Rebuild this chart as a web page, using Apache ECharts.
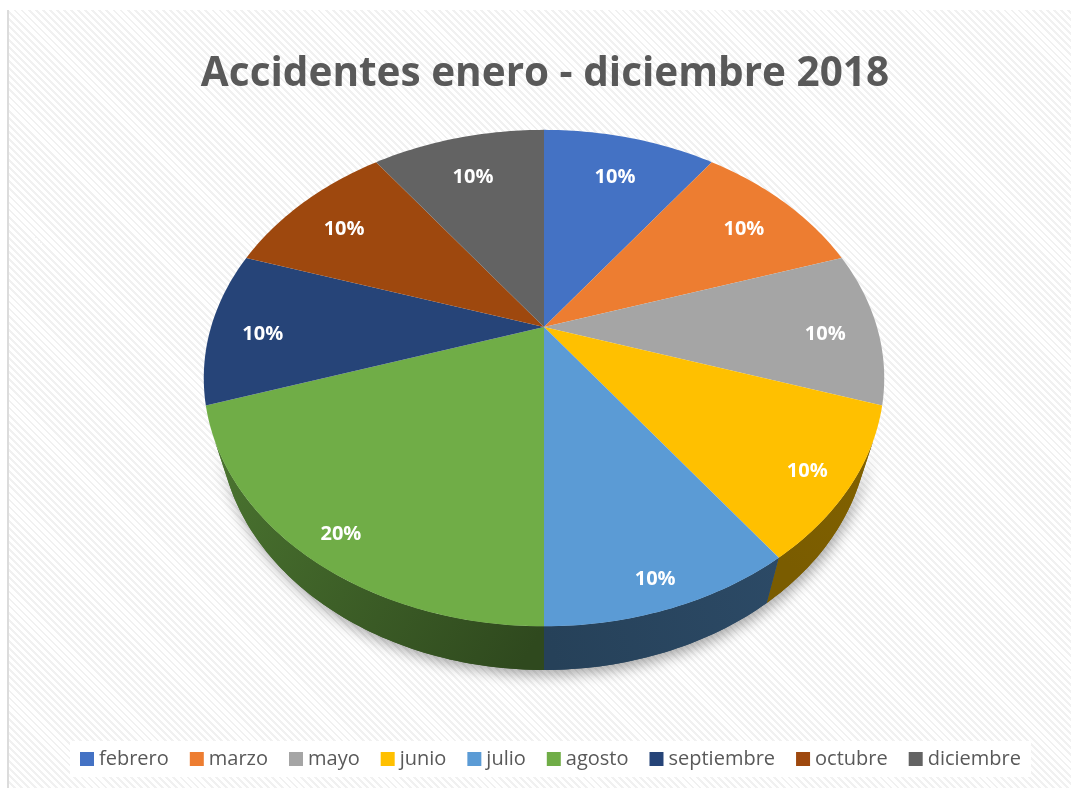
<!DOCTYPE html>
<html>
<head>
<meta charset="utf-8">
<script src="https://cdn.jsdelivr.net/npm/echarts@6/dist/echarts.min.js"></script>
<style>
  html, body { margin: 0; padding: 0; background: #fff; }
  #bg {
    position: absolute; left: 7px; top: 10px; width: 1062px; height: 778px;
    border-left: 2px solid #dcdcdc;
    background: repeating-linear-gradient(45deg, #ffffff 0px, #ffffff 3px, #f1f1f1 3px, #f1f1f1 5px);
  }
  #main { position: absolute; left: 0; top: 0; width: 1071px; height: 788px; }
</style>
</head>
<body>
<div id="bg"></div>
<div id="main"></div>
<script>
// datos
const months = ['febrero', 'marzo', 'mayo', 'junio', 'julio', 'agosto', 'septiembre', 'octubre', 'diciembre'];
const accidents = [1, 1, 1, 1, 1, 2, 1, 1, 1];
const palette = ['#4472C4', '#ED7D31', '#A5A5A5', '#FFC000', '#5B9BD5', '#70AD47', '#264478', '#9E480E', '#636363'];
const titleText = 'Accidentes enero - diciembre 2018';

// camara de la vista 3D (perspectiva)
const CX = 544, CY = 327, FOC = 1132, DIST = 3.40;
const SIN_T = 0.714, COS_T = 0.700, DEPTH = 0.215;

const total = accidents.reduce((a, b) => a + b, 0);

// angulo medido en sentido horario desde arriba (fondo)
const project = (phi, r, h) => {
  const u = r * Math.sin(phi);
  const v = r * Math.cos(phi);
  const z = DIST + COS_T * v + h * SIN_T;
  return [CX + FOC * u / z, CY - FOC * (SIN_T * v - h * COS_T) / z];
};

const shade = (hex, f) => {
  const n = parseInt(hex.slice(1), 16);
  const r = Math.round(((n >> 16) & 255) * f);
  const g = Math.round(((n >> 8) & 255) * f);
  const b = Math.round((n & 255) * f);
  return 'rgb(' + r + ',' + g + ',' + b + ')';
};

const sideFactor = (phi) => {
  const s = Math.sin(phi);
  return 0.42 + 0.1 * Math.max(0, s) + 0.28 * Math.max(0, -s);
};

// limite visible de la pared lateral
const wallLim = Math.acos(-1 / (DIST * COS_T));

const arcPoints = (a0, a1, r, h) => {
  const pts = [];
  const steps = Math.max(2, Math.ceil((a1 - a0) / (Math.PI / 180)));
  for (let k = 0; k <= steps; k++) {
    pts.push(project(a0 + (a1 - a0) * k / steps, r, h));
  }
  return pts;
};

const renderSlice = (params) => {
  const i = params.seriesIndex;
  let before = 0;
  for (let k = 0; k < i; k++) before += accidents[k];
  const a0 = before / total * Math.PI * 2;
  const a1 = (before + accidents[i]) / total * Math.PI * 2;
  const color = palette[i];
  const children = [];

  // cara superior
  const top = [project(0, 0, 0)].concat(arcPoints(a0, a1, 1, 0));
  children.push({
    type: 'polygon',
    shape: { points: top },
    style: { fill: color },
    z2: 10
  });

  // pared lateral
  const b0 = Math.max(a0, wallLim);
  const b1 = Math.min(a1, Math.PI * 2 - wallLim);
  if (b1 > b0) {
    const upper = arcPoints(b0, b1, 1, 0);
    const lower = arcPoints(b0, b1, 1, DEPTH).reverse();
    const pts = upper.concat(lower);
    const p0 = project(b0, 1, 0);
    const p1 = project(b1, 1, 0);
    const grad = new echarts.graphic.LinearGradient(p0[0], p0[1], p1[0], p1[1], [
      { offset: 0, color: shade(color, sideFactor(b0)) },
      { offset: 1, color: shade(color, sideFactor(b1)) }
    ], true);
    children.push({
      type: 'polygon',
      shape: { points: pts },
      style: { fill: grad, shadowBlur: 14, shadowColor: 'rgba(0,0,0,0.35)', shadowOffsetY: 5, shadowOffsetX: 2 },
      z2: 0
    });
    children.push({
      type: 'polygon',
      shape: { points: pts },
      style: { fill: grad },
      z2: 1
    });
  }

  // etiqueta
  const mid = (a0 + a1) / 2;
  const lp = project(mid, 0.85 - 0.05 * Math.cos(mid), 0.03);
  children.push({
    type: 'text',
    x: lp[0],
    y: lp[1],
    style: {
      text: Math.round(accidents[i] / total * 100) + '%',
      fill: '#ffffff',
      font: 'bold 20px "Open Sans", sans-serif',
      align: 'center',
      verticalAlign: 'middle'
    },
    z2: 20
  });

  return { type: 'group', children: children };
};

const chart = echarts.init(document.getElementById('main'));

chart.setOption({
  animation: false,
  title: {
    text: titleText,
    left: 540,
    top: 49,
    textAlign: 'center',
    textStyle: {
      fontFamily: 'Open Sans',
      fontSize: 40.5,
      fontWeight: 'bold',
      color: '#595959'
    }
  },
  legend: {
    data: months,
    left: 70,
    top: 741,
    icon: 'rect',
    itemWidth: 14,
    itemHeight: 14,
    itemGap: 21,
    padding: [8, 10],
    backgroundColor: '#ffffff',
    textStyle: {
      fontFamily: 'Open Sans',
      fontSize: 20,
      color: '#595959'
    }
  },
  series: months.map((m, i) => ({
    name: m,
    type: 'custom',
    coordinateSystem: 'none',
    itemStyle: { color: palette[i] },
    data: [accidents[i]],
    renderItem: renderSlice
  }))
});

window.addEventListener('resize', () => chart.resize());
</script>
</body>
</html>
